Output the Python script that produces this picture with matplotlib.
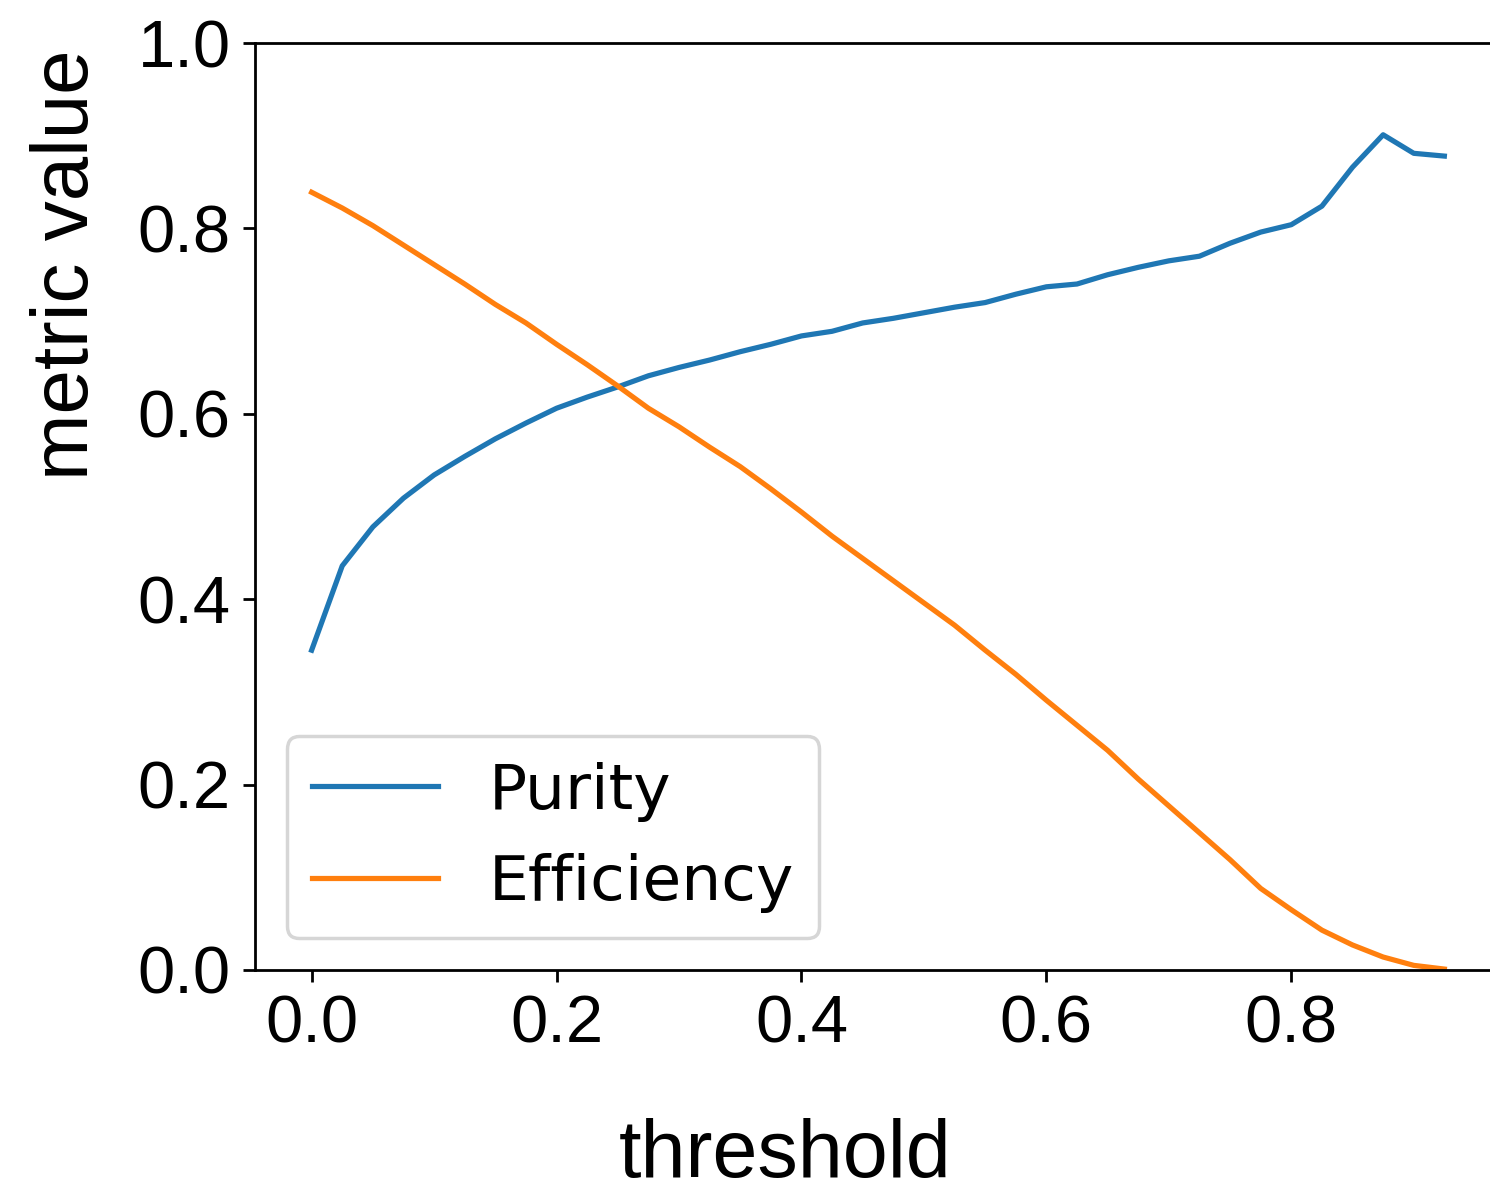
import matplotlib
matplotlib.use("Agg")
import matplotlib.pyplot as plt
import numpy as np

thresholds = [0.0, 0.025, 0.05, 0.075, 0.1, 0.125, 0.15, 0.175, 0.2, 0.225,
              0.25, 0.275, 0.3, 0.325, 0.35, 0.375, 0.4, 0.425, 0.45, 0.475,
              0.5, 0.525, 0.55, 0.575, 0.6, 0.625, 0.65, 0.675, 0.7, 0.725,
              0.75, 0.775, 0.8, 0.825, 0.85, 0.875, 0.9, 0.925]

purity = [0.345, 0.436, 0.478, 0.509, 0.534, 0.554, 0.573, 0.590, 0.606, 0.618,
          0.629, 0.641, 0.650, 0.658, 0.667, 0.675, 0.684, 0.689, 0.698, 0.703,
          0.709, 0.715, 0.720, 0.729, 0.737, 0.740, 0.750, 0.758, 0.765, 0.770,
          0.784, 0.796, 0.804, 0.824, 0.866, 0.901, 0.881, 0.878]

efficiency = [0.839, 0.822, 0.803, 0.782, 0.761, 0.740, 0.718, 0.698, 0.675, 0.653,
              0.630, 0.606, 0.586, 0.564, 0.543, 0.519, 0.494, 0.468, 0.444, 0.420,
              0.396, 0.372, 0.345, 0.319, 0.291, 0.264, 0.237, 0.206, 0.177, 0.148,
              0.119, 0.088, 0.065, 0.043, 0.027, 0.014, 0.005, 0.001]

series_labels = ["Purity", "Efficiency"]
x_label = "threshold"
y_label = "metric value"

W, H = 1490, 1188
DPI = 250
fig = plt.figure(figsize=(W / DPI, H / DPI), dpi=DPI)
ax = fig.add_axes([255 / W, 1 - 970 / H, (1501 - 255) / W, (970 - 43) / H])

ax.plot(thresholds, purity, color="#1f77b4", lw=1.5, label=series_labels[0])
ax.plot(thresholds, efficiency, color="#ff7f0e", lw=1.5, label=series_labels[1])

ax.set_ylim(0, 1.0)
ax.set_yticks([0.0, 0.2, 0.4, 0.6, 0.8, 1.0])
ax.set_xticks([0.0, 0.2, 0.4, 0.6, 0.8])
tick_font = "Liberation Sans"
for lab in ax.get_xticklabels() + ax.get_yticklabels():
    lab.set_fontfamily(tick_font)
    lab.set_fontsize(19.3)

leg = ax.legend(loc="lower left", prop={"family": "DejaVu Sans", "size": 18.2})

fig.text(785 / W, 1 - 1177 / H, x_label, fontsize=23.3, family="Liberation Sans",
         ha="center", va="baseline")
fig.text(88 / W, 1 - 265 / H, y_label, fontsize=23, family="Liberation Sans",
         rotation=90, rotation_mode="anchor", ha="center", va="baseline")

fig.savefig("out.png", dpi=DPI)
